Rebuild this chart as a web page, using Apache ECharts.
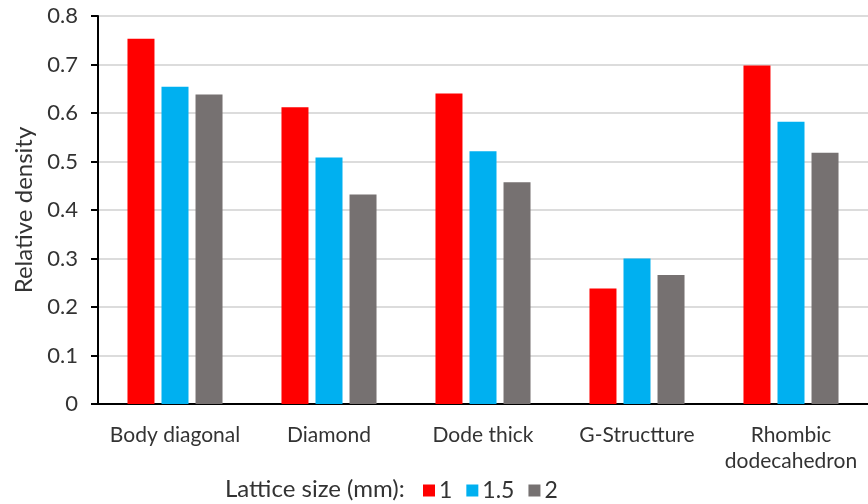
<!DOCTYPE html>
<html>
<head>
<meta charset="utf-8">
<script src="https://cdn.jsdelivr.net/npm/echarts@6/dist/echarts.min.js"></script>
<style>
  html, body { margin: 0; padding: 0; background: #fff; }
  #main { width: 868px; height: 504px; }
</style>
</head>
<body>
<div id="main"></div>
<script>
// lattice structures and relative density per lattice size
const categories = ['Body diagonal', 'Diamond', 'Dode thick', 'G-Structture', 'Rhombic\ndodecahedron'];
const sizes = ['1', '1.5', '2'];
const size1 = [0.753, 0.612, 0.640, 0.238, 0.698];
const size15 = [0.654, 0.508, 0.521, 0.300, 0.582];
const size2 = [0.638, 0.432, 0.457, 0.266, 0.518];
const colors = ['#ff0000', '#00b0f0', '#767171'];

let chart = echarts.init(document.getElementById('main'));
const font = 'Lato, "Open Sans", sans-serif';

function bar(name, data, i) {
    return {
        name: name,
        type: 'bar',
        data: data,
        barWidth: 27,
        barGap: '26%',
        itemStyle: { color: colors[i] }
    };
}

let option = {
    animation: false,
    textStyle: { fontFamily: font },
    grid: { left: 98, right: -10, top: 16, bottom: 100 },
    graphic: [{
        type: 'text',
        left: 225,
        top: 477,
        style: { text: 'Lattice size (mm):', font: '24px ' + font, fill: '#333' }
    }],
    legend: {
        data: sizes,
        left: 418,
        top: 474,
        itemWidth: 12,
        itemHeight: 12,
        itemGap: 14,
        icon: 'rect',
        textStyle: { fontSize: 23, color: '#333', padding: [0, 0, 0, -1] }
    },
    xAxis: {
        type: 'category',
        data: categories,
        axisLine: { lineStyle: { color: '#000', width: 2 } },
        axisTick: { show: false },
        axisLabel: { fontSize: 21, color: '#333', margin: 18, lineHeight: 26, interval: 0 }
    },
    yAxis: {
        type: 'value',
        min: 0,
        max: 0.8,
        interval: 0.1,
        name: 'Relative density',
        nameLocation: 'middle',
        nameGap: 61,
        nameTextStyle: { fontSize: 24, color: '#333' },
        axisLine: { show: true, lineStyle: { color: '#000', width: 2 } },
        axisTick: { show: true, length: 7, lineStyle: { color: '#000', width: 2 } },
        axisLabel: { fontSize: 22, color: '#333', margin: 20 },
        splitLine: { lineStyle: { color: '#d0d0d0', width: 1.5 } }
    },
    series: [bar(sizes[0], size1, 0), bar(sizes[1], size15, 1), bar(sizes[2], size2, 2)]
};

chart.setOption(option);
</script>
</body>
</html>
